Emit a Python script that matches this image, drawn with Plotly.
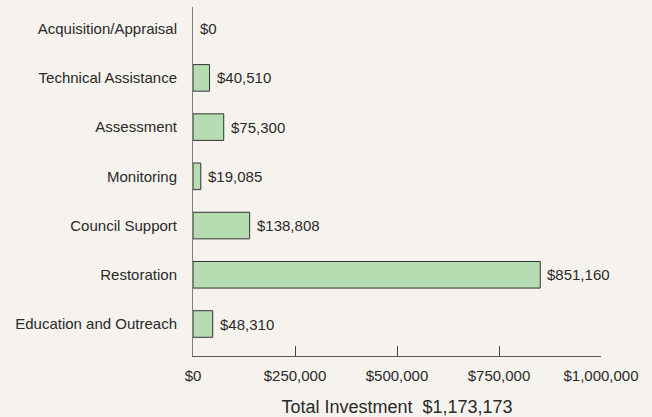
import plotly.graph_objects as go

# Investment by program area (top to bottom as listed on the chart)
categories = [
    "Acquisition/Appraisal",
    "Technical Assistance",
    "Assessment",
    "Monitoring",
    "Council Support",
    "Restoration",
    "Education and Outreach",
]
amounts = [0, 40510, 75300, 19085, 138808, 851160, 48310]
tick_values = [0, 250000, 500000, 750000, 1000000]
tick_labels = ["$0", "$250,000", "$500,000", "$750,000", "$1,000,000"]

BG = "#f6f3ee"
BAR_FILL = "#b6ddb1"
TEXT = "#2a2a2a"
FONT = "Liberation Sans, Arial, sans-serif"

total = sum(amounts)
# bottom-to-top order for the category axis
order = categories[::-1]

# no outline on empty bars so the zero line stays clean
outline_widths = [1 if v > 0 else 0 for v in amounts]

fig = go.Figure()
fig.add_trace(
    go.Bar(
        x=amounts,
        y=categories,
        orientation="h",
        width=0.54,
        marker=dict(color=BAR_FILL, line=dict(color="#333333", width=outline_widths)),
        hoverinfo="x+y",
    )
)

# value labels just right of each bar end
for cat, val in zip(categories, amounts):
    fig.add_annotation(
        x=val,
        y=cat,
        text=f"${val:,}",
        showarrow=False,
        xanchor="left",
        yanchor="middle",
        xshift=5,
        font=dict(family=FONT, size=15, color=TEXT),
    )

fig.update_layout(
    width=652,
    height=417,
    margin=dict(l=193, r=51, t=7, b=61),
    paper_bgcolor=BG,
    plot_bgcolor=BG,
    showlegend=False,
    font=dict(family=FONT, size=15, color=TEXT),
    xaxis=dict(
        range=[0, 1000000],
        tickvals=tick_values,
        ticktext=tick_labels,
        ticks="inside",
        ticklen=10,
        tickwidth=1,
        tickcolor="#444444",
        showline=True,
        linecolor="#555555",
        linewidth=1,
        showgrid=False,
        zeroline=False,
        ticklabelstandoff=6,
        tickfont=dict(family=FONT, size=15, color=TEXT),
        title=dict(
            text=f"Total Investment\u00a0\u00a0${total:,}",
            font=dict(family=FONT, size=18, color=TEXT),
            standoff=18,
        ),
        automargin=False,
    ),
    yaxis=dict(
        type="category",
        categoryorder="array",
        categoryarray=order,
        range=[-0.65, 6.44],
        showline=True,
        linecolor="#808080",
        linewidth=1,
        ticks="",
        showgrid=False,
        zeroline=False,
        ticklabelstandoff=12,
        tickfont=dict(family=FONT, size=15, color=TEXT),
        automargin=False,
    ),
)

fig.write_html("out.html")
